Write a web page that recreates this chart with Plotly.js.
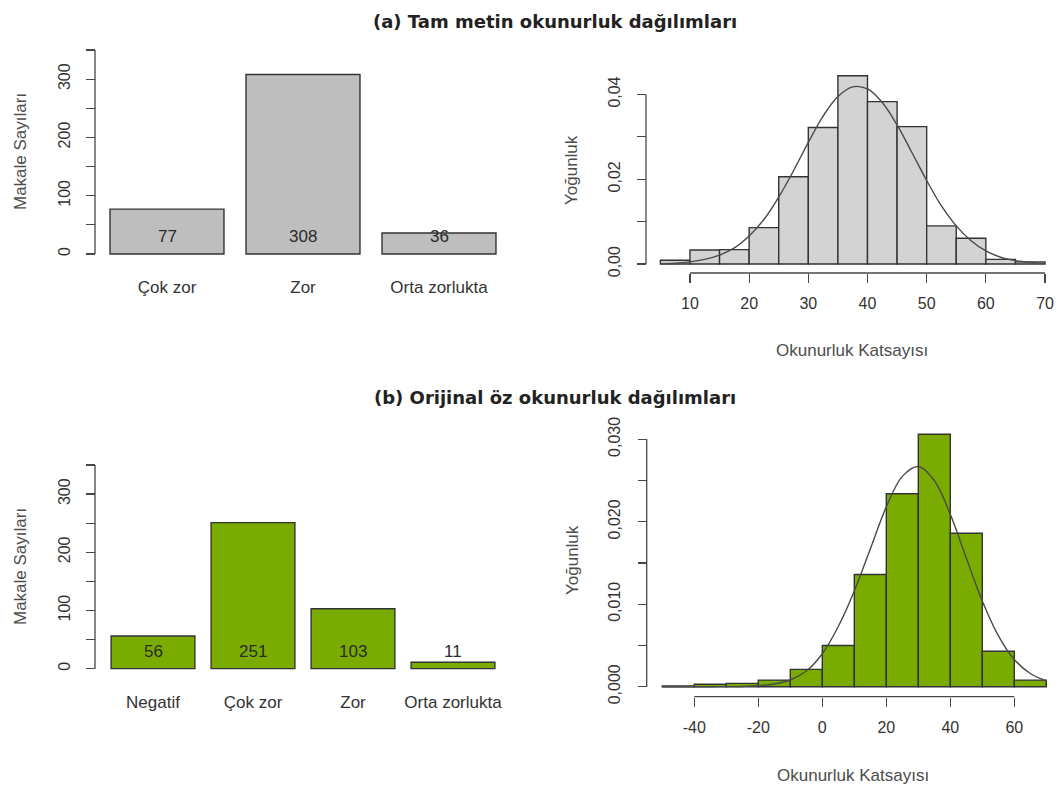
<!DOCTYPE html>
<html>
<head>
<meta charset="utf-8">
<script src="https://cdn.plot.ly/plotly-3.0.1.min.js"></script>
<style>
  html, body { margin: 0; padding: 0; background: #ffffff; }
  #chart { width: 1059px; height: 787px; }
</style>
</head>
<body>
<div id="chart"></div>
<script>
// ---- (a) full-text readability ----
const fullCategories = ['Çok zor', 'Zor', 'Orta zorlukta'];
const fullCounts = [77, 308, 36];

// histogram of full-text readability scores, bins of width 5
const fullBinWidth = 5;
const fullBinStarts = [5, 10, 15, 20, 25, 30, 35, 40, 45, 50, 55, 60, 65];
const fullDensity = [0.0009, 0.0033, 0.0034, 0.0086, 0.0206, 0.0322, 0.0444, 0.0383, 0.0324, 0.0090, 0.0061, 0.0011, 0.0005];

// fitted normal density curve over the full-text scores
const fullCurveX = [5, 7.5, 10, 12.5, 15, 17.5, 20, 22.5, 25, 27.5, 30, 32.5, 35, 37.5,
                    40, 42.5, 45, 47.5, 50, 52.5, 55, 57.5, 60, 62.5, 65, 67.5, 70];
const fullCurveY = [0.0001, 0.0002, 0.0005, 0.0011, 0.0021, 0.0038, 0.0066, 0.0105, 0.0158, 0.0220,
                    0.0287, 0.0349, 0.0395, 0.0418, 0.0413, 0.0381, 0.0328, 0.0263, 0.0197, 0.0137,
                    0.0090, 0.0055, 0.0031, 0.0016, 0.0008, 0.0004, 0.0002];

// ---- (b) original abstract readability ----
const absCategories = ['Negatif', 'Çok zor', 'Zor', 'Orta zorlukta'];
const absCounts = [56, 251, 103, 11];

// histogram of abstract readability scores, bins of width 10
const absBinWidth = 10;
const absBinStarts = [-50, -40, -30, -20, -10, 0, 10, 20, 30, 40, 50, 60];
const absDensity = [0.0001, 0.0003, 0.0004, 0.0008, 0.0021, 0.0050, 0.0136, 0.0234, 0.0306, 0.0186, 0.0043, 0.0008];

// fitted normal density curve over the abstract scores
const absCurveX = [-50, -45, -40, -35, -30, -25, -20, -15, -10, -5, 0, 5, 10, 15, 20, 25,
                   30, 35, 40, 45, 50, 55, 60, 65, 70];
const absCurveY = [0, 0, 0, 0, 0.00001, 0.00003, 0.00011, 0.00032, 0.00081, 0.0019, 0.0040,
                   0.0073, 0.0116, 0.0167, 0.0218, 0.0255, 0.0267, 0.0250, 0.0209, 0.0156,
                   0.0104, 0.0062, 0.0033, 0.0016, 0.0007];

// ---- tick labels ----
const countTicks = [0, 50, 100, 150, 200, 250, 300, 350];
const countTickText = ['0', '', '100', '', '200', '', '300', ''];
const fullDensTicks = [0, 0.01, 0.02, 0.03, 0.04];
const fullDensTickText = ['0,00', '', '0,02', '', '0,04'];
const fullScoreTicks = [10, 20, 30, 40, 50, 60, 70];
const absDensTicks = [0, 0.005, 0.01, 0.015, 0.02, 0.025, 0.03];
const absDensTickText = ['0,000', '', '0,010', '', '0,020', '', '0,030'];
const absScoreTicks = [-40, -20, 0, 20, 40, 60];

// ---- styling ----
const W = 1059, H = 787;
const px = v => v / W;          // horizontal pixel -> paper fraction
const py = v => 1 - v / H;      // vertical pixel -> paper fraction
const FONT = 'Liberation Sans, Arial, sans-serif';
const EDGE = '#333333';
const AXIS = '#474747';
const GREY_BAR = '#BEBEBE';
const GREY_HIST = '#D3D3D3';
const GREEN = '#7AAC00';
const valueLabelY = 30;

const barEdge = { color: EDGE, width: 1.4 };

const traces = [
  { type: 'bar', x: fullCategories, y: fullCounts, xaxis: 'x', yaxis: 'y',
    marker: { color: GREY_BAR, line: barEdge } },
  { type: 'bar', x: fullBinStarts.map(b => b + fullBinWidth / 2), y: fullDensity,
    width: fullBinWidth, xaxis: 'x2', yaxis: 'y2',
    marker: { color: GREY_HIST, line: barEdge } },
  { type: 'scatter', mode: 'lines', x: fullCurveX, y: fullCurveY, xaxis: 'x2', yaxis: 'y2',
    line: { color: '#4a4a4a', width: 1.4, shape: 'spline' } },
  { type: 'bar', x: absCategories, y: absCounts, xaxis: 'x3', yaxis: 'y3',
    marker: { color: GREEN, line: barEdge } },
  { type: 'bar', x: absBinStarts.map(b => b + absBinWidth / 2), y: absDensity,
    width: absBinWidth, xaxis: 'x4', yaxis: 'y4',
    marker: { color: GREEN, line: barEdge } },
  { type: 'scatter', mode: 'lines', x: absCurveX, y: absCurveY, xaxis: 'x4', yaxis: 'y4',
    line: { color: '#4a4a4a', width: 1.4, shape: 'spline' } }
];

const tickFont = { family: FONT, size: 16, color: '#333333' };
const catFont = { family: FONT, size: 17, color: '#333333' };

const catAxis = (domain, range, anchor) => ({
  domain, range, anchor, type: 'category',
  showline: false, ticks: '', showgrid: false, zeroline: false,
  tickfont: catFont, ticklabelstandoff: 13, fixedrange: true
});
const countAxis = (domain, position) => ({
  domain, range: [-14, 350], anchor: 'free', position,
  tickmode: 'array', tickvals: countTicks, ticktext: countTickText,
  tickangle: -90, ticks: 'outside', ticklen: 9, tickwidth: 1.2, tickcolor: AXIS,
  showline: false, showgrid: false, zeroline: false,
  tickfont: tickFont, ticklabelstandoff: 10, fixedrange: true
});
const scoreAxis = (domain, range, position, vals) => ({
  domain, range, anchor: 'free', position,
  tickmode: 'array', tickvals: vals, ticktext: vals.map(String),
  ticks: 'outside', ticklen: 9, tickwidth: 1.2, tickcolor: AXIS,
  showline: false, showgrid: false, zeroline: false,
  tickfont: tickFont, ticklabelstandoff: 7, fixedrange: true
});
const densAxis = (domain, range, position, vals, text) => ({
  domain, range, anchor: 'free', position,
  tickmode: 'array', tickvals: vals, ticktext: text,
  tickangle: -90, ticks: 'outside', ticklen: 9, tickwidth: 1.2, tickcolor: AXIS,
  showline: false, showgrid: false, zeroline: false,
  tickfont: tickFont, ticklabelstandoff: 11, fixedrange: true
});

// axis baselines spanning the first to the last tick
const axisLine = { color: AXIS, width: 1.3 };
const shapes = [
  { type: 'line', xref: 'paper', yref: 'y', x0: px(95), x1: px(95),
    y0: countTicks[0], y1: countTicks[countTicks.length - 1], line: axisLine },
  { type: 'line', xref: 'paper', yref: 'y3', x0: px(95), x1: px(95),
    y0: countTicks[0], y1: countTicks[countTicks.length - 1], line: axisLine },
  { type: 'line', xref: 'paper', yref: 'y2', x0: px(646), x1: px(646),
    y0: fullDensTicks[0], y1: fullDensTicks[fullDensTicks.length - 1], line: axisLine },
  { type: 'line', xref: 'x2', yref: 'paper', y0: py(273), y1: py(273),
    x0: fullScoreTicks[0], x1: fullScoreTicks[fullScoreTicks.length - 1], line: axisLine },
  { type: 'line', xref: 'paper', yref: 'y4', x0: px(646.7), x1: px(646.7),
    y0: absDensTicks[0], y1: absDensTicks[absDensTicks.length - 1], line: axisLine },
  { type: 'line', xref: 'x4', yref: 'paper', y0: py(696.7), y1: py(696.7),
    x0: absScoreTicks[0], x1: absScoreTicks[absScoreTicks.length - 1], line: axisLine }
];

const valueFont = { family: FONT, size: 17, color: '#2a2a2a' };
const titleFont = { family: 'DejaVu Sans, Verdana, sans-serif', size: 18, color: '#222222' };
const axisTitleFont = { family: FONT, size: 17, color: '#4d4d4d' };

const annotations = [
  ...fullCategories.map((c, i) => ({ xref: 'x', yref: 'y', x: c, y: valueLabelY,
    text: String(fullCounts[i]), showarrow: false, font: valueFont })),
  ...absCategories.map((c, i) => ({ xref: 'x3', yref: 'y3', x: c, y: valueLabelY,
    text: String(absCounts[i]), showarrow: false, font: valueFont })),
  { xref: 'paper', yref: 'paper', x: px(555), y: py(22), text: '<b>(a) Tam metin okunurluk dağılımları</b>',
    showarrow: false, font: titleFont, xanchor: 'center', yanchor: 'middle' },
  { xref: 'paper', yref: 'paper', x: px(555), y: py(397), text: '<b>(b) Orijinal öz okunurluk dağılımları</b>',
    showarrow: false, font: titleFont, xanchor: 'center', yanchor: 'middle' },
  { xref: 'paper', yref: 'paper', x: px(20), y: py(152), text: 'Makale Sayıları', textangle: -90,
    showarrow: false, font: axisTitleFont, xanchor: 'center', yanchor: 'middle' },
  { xref: 'paper', yref: 'paper', x: px(20), y: py(567), text: 'Makale Sayıları', textangle: -90,
    showarrow: false, font: axisTitleFont, xanchor: 'center', yanchor: 'middle' },
  { xref: 'paper', yref: 'paper', x: px(571), y: py(170), text: 'Yoğunluk', textangle: -90,
    showarrow: false, font: axisTitleFont, xanchor: 'center', yanchor: 'middle' },
  { xref: 'paper', yref: 'paper', x: px(572), y: py(560), text: 'Yoğunluk', textangle: -90,
    showarrow: false, font: axisTitleFont, xanchor: 'center', yanchor: 'middle' },
  { xref: 'paper', yref: 'paper', x: px(852), y: py(350), text: 'Okunurluk Katsayısı',
    showarrow: false, font: axisTitleFont, xanchor: 'center', yanchor: 'middle' },
  { xref: 'paper', yref: 'paper', x: px(853), y: py(775), text: 'Okunurluk Katsayısı',
    showarrow: false, font: axisTitleFont, xanchor: 'center', yanchor: 'middle' }
];

const layout = {
  width: W, height: H,
  margin: { l: 0, r: 0, t: 0, b: 0 },
  paper_bgcolor: '#ffffff', plot_bgcolor: 'rgba(0,0,0,0)',
  showlegend: false, bargap: 0.162,
  font: { family: FONT, color: '#333333' },
  xaxis: catAxis([px(85.4), px(520.6)], [-0.6, 2.6], 'y'),
  yaxis: countAxis([py(262.2), py(50)], px(95)),
  xaxis2: scoreAxis([px(651.5), px(1053.9)], [3.5, 71.5], py(273), fullScoreTicks),
  yaxis2: densAxis([py(270.4), py(69)], [-0.0015, 0.046], px(646), fullDensTicks, fullDensTickText),
  xaxis3: catAxis([px(93), px(513)], [-0.6, 3.6], 'y3'),
  yaxis3: countAxis([py(676.8), py(465)], px(95)),
  xaxis4: scoreAxis([px(655.9), px(1049.5)], [-52, 71], py(696.7), absScoreTicks),
  yaxis4: densAxis([py(693.3), py(426.9)], [-0.0008, 0.0315], px(646.7), absDensTicks, absDensTickText),
  shapes, annotations
};

Plotly.newPlot('chart', traces, layout, { staticPlot: true, displayModeBar: false });
</script>
</body>
</html>
